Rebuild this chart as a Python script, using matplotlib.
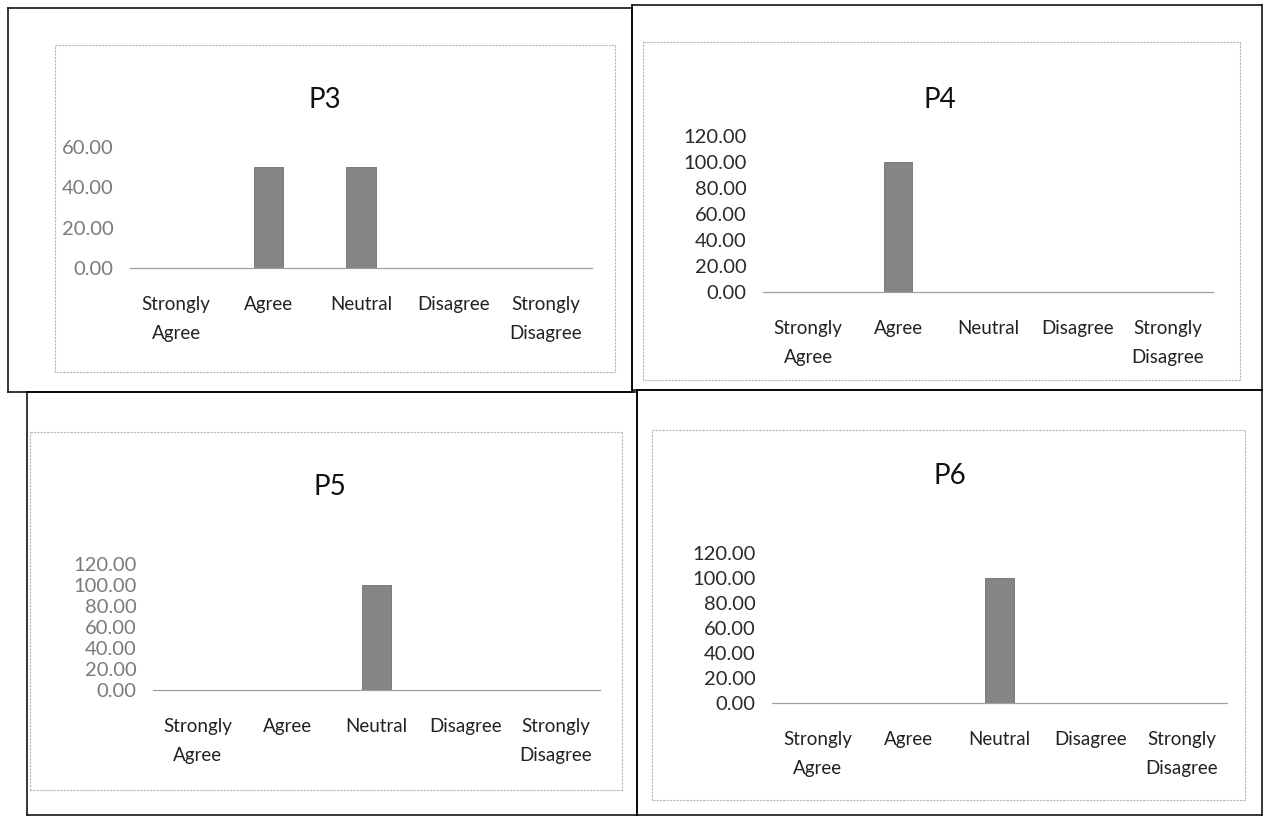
import matplotlib
matplotlib.use("Agg")
import matplotlib.pyplot as plt
from matplotlib.lines import Line2D

plt.rcParams['font.family'] = ['Lato', 'DejaVu Sans']

categories = ["Strongly\nAgree", "Agree", "Neutral", "Disagree", "Strongly\nDisagree"]
p3_values = [0, 50, 50, 0, 0]
p4_values = [0, 100, 0, 0, 0]
p5_values = [0, 0, 100, 0, 0]
p6_values = [0, 0, 100, 0, 0]
p3_ticks = [0, 20, 40, 60]
big_ticks = [0, 20, 40, 60, 80, 100, 120]

W, H = 1270, 819
fig = plt.figure(figsize=(W / 100, H / 100), dpi=100)
fig.patch.set_facecolor('white')


def fx(x):
    return x / W


def fy(y):
    return 1 - y / H


def rect_lines(x0, y0, x1, y1, **kw):
    for xs, ys in [((x0, x1), (y0, y0)), ((x1, x1), (y0, y1)),
                   ((x1, x0), (y1, y1)), ((x0, x0), (y1, y0))]:
        fig.add_artist(Line2D([fx(xs[0]), fx(xs[1])], [fy(ys[0]), fy(ys[1])],
                              transform=fig.transFigure, **kw))


# table cell borders
for r in [(8, 8, 632, 392), (632, 5, 1262, 390), (27, 392, 637, 815), (637, 390, 1262, 815)]:
    rect_lines(*r, color='black', lw=1.1)

# chart frames (faint)
for r in [(55, 45, 615, 372), (643, 42, 1240, 380), (30, 432, 622, 790), (652, 430, 1245, 800)]:
    rect_lines(*r, color='#b5b5b5', lw=0.8, ls=(0, (2, 1)))

charts = [
    ("P3", p3_values, p3_ticks, (130, 592, 147, 268), (325, 100), '#7a7a7a'),
    ("P4", p4_values, big_ticks, (763, 1213, 136, 292), (940, 100), '#2a2a2a'),
    ("P5", p5_values, big_ticks, (153, 600, 564, 690), (330, 487), '#7a7a7a'),
    ("P6", p6_values, big_ticks, (772, 1227, 553, 703), (950, 476), '#2a2a2a'),
]

for title, vals, ticks, (x0, x1, ytop, ybot), (tx, ty), tcol in charts:
    ax = fig.add_axes([fx(x0), fy(ybot), fx(x1 - x0), (ybot - ytop) / H])
    xs = list(range(len(categories)))
    ax.bar(xs, vals, width=0.32, color='#858585', edgecolor='#6f6f6f', lw=0.6)
    ax.set_xlim(-0.5, len(categories) - 0.5)
    ax.set_ylim(0, ticks[-1])
    ax.set_yticks(ticks)
    ax.set_yticklabels([f"{t:.2f}" for t in ticks], fontsize=14.5, color=tcol)
    ax.set_xticks(xs)
    ax.set_xticklabels(categories, fontsize=13.5, color='#222222', linespacing=1.9)
    ax.tick_params(axis='both', length=0)
    ax.tick_params(axis='x', pad=20)
    ax.tick_params(axis='y', pad=12)
    for s in ['top', 'right', 'left']:
        ax.spines[s].set_visible(False)
    ax.spines['bottom'].set_color('#a0a0a0')
    ax.spines['bottom'].set_linewidth(0.9)
    ax.patch.set_alpha(0)
    fig.text(fx(tx), fy(ty), title, fontsize=20, ha='center', va='center', color='#111111')

fig.savefig("out.png", dpi=100)
